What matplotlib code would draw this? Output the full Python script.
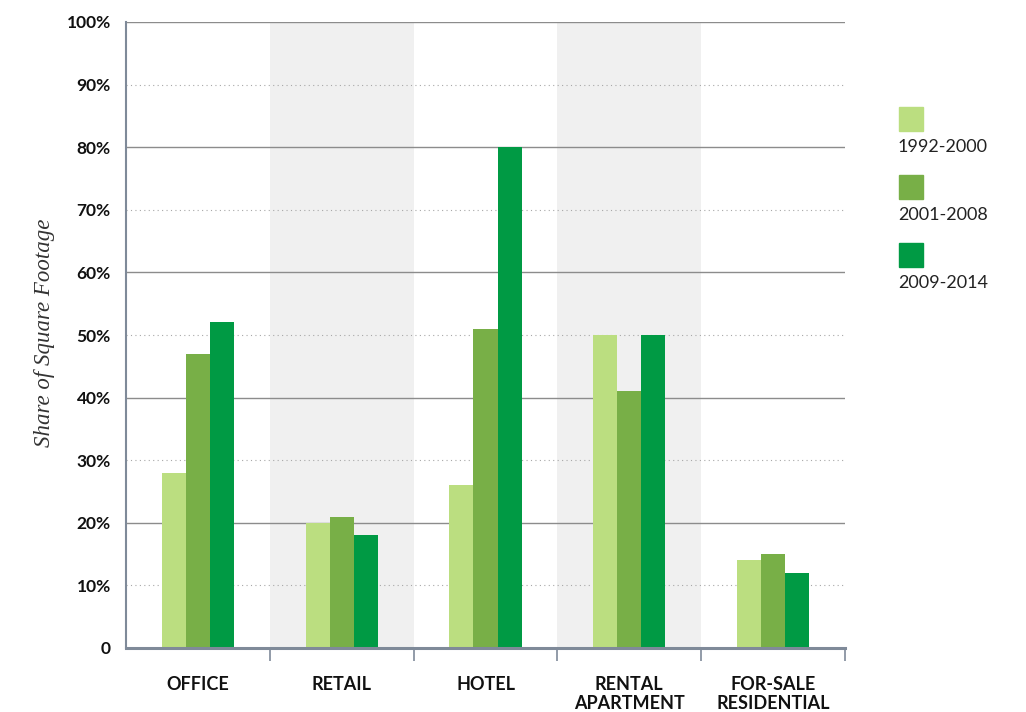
import matplotlib
matplotlib.use("Agg")
import matplotlib.pyplot as plt
import numpy as np
from matplotlib.patches import Rectangle

# share of square footage by property type and period (%)
categories = ["OFFICE", "RETAIL", "HOTEL", "RENTAL\nAPARTMENT", "FOR-SALE\nRESIDENTIAL"]
periods = ["1992-2000", "2001-2008", "2009-2014"]
share_1992_2000 = [28, 20, 26, 50, 14]
share_2001_2008 = [47, 21, 51, 41, 15]
share_2009_2014 = [52, 18, 80, 50, 12]
y_ticks = [0, 10, 20, 30, 40, 50, 60, 70, 80, 90, 100]
y_tick_labels = ["0", "10%", "20%", "30%", "40%", "50%", "60%", "70%", "80%", "90%", "100%"]

COLORS = ["#BBDE80", "#78AF47", "#009A44"]
SHADE = "#F0F0F0"
AXIS_C = "#7F8A99"
GRID_C = "#8C8C8C"
BAR_W = 0.167

fig = plt.figure(figsize=(10.26, 7.12), dpi=100)
ax = fig.add_axes([126 / 1026, 1 - 648 / 712, 719 / 1026, 626 / 712])

n = len(categories)
ax.set_xlim(0, n)
ax.set_ylim(0, 100)

# alternating shaded bands behind retail and rental apartment
for i in (1, 3):
    ax.axvspan(i, i + 1, color=SHADE, zorder=0, lw=0)

# gridlines: solid every 20, dotted in between
for y in y_ticks[1:]:
    if y % 20 == 0:
        ax.axhline(y, color=GRID_C, lw=1.0, zorder=1)
    else:
        ax.axhline(y, color="#A8A8A8", lw=0.8, ls=(0, (1, 3)), zorder=1)

x = np.arange(n) + 0.5
series = [share_1992_2000, share_2001_2008, share_2009_2014]
for k, vals in enumerate(series):
    ax.bar(x + (k - 1) * BAR_W, vals, width=BAR_W, color=COLORS[k],
           zorder=2, linewidth=0)

for side in ("top", "right"):
    ax.spines[side].set_visible(False)
ax.spines["left"].set_color(AXIS_C)
ax.spines["left"].set_linewidth(1.5)
ax.spines["bottom"].set_color(AXIS_C)
ax.spines["bottom"].set_linewidth(2.2)

ax.set_yticks(y_ticks)
ax.set_yticklabels(y_tick_labels, fontfamily="Lato", fontweight="bold", fontsize=12.5)
ax.tick_params(axis="y", length=0, pad=11, labelcolor="#111111")

# boundary ticks between categories, labels centred under each group
ax.set_xticks(np.arange(1, n + 1))
ax.set_xticklabels([])
ax.tick_params(axis="x", which="major", length=9, width=1.2, color=AXIS_C, direction="out")
ax.set_xticks(x, minor=True)
ax.set_xticklabels(categories, minor=True, fontfamily="Lato", fontweight="bold",
                   fontsize=13, linespacing=1.15)
ax.tick_params(axis="x", which="minor", length=0, pad=20, labelcolor="#111111")

fig.text(45 / 1026, 1 - 333 / 712, "Share of Square Footage", rotation=90,
         ha="center", va="center", fontfamily="Liberation Serif", fontstyle="italic",
         fontsize=16.5, color="#333333")

# legend: swatch above each label
for k, lab in enumerate(periods):
    top = 107 + k * 68
    fig.patches.append(Rectangle((899 / 1026, 1 - (top + 24) / 712), 24 / 1026, 24 / 712,
                                 transform=fig.transFigure, color=COLORS[k]))
    fig.text(898 / 1026, 1 - (top + 40) / 712, lab, ha="left", va="center",
             fontfamily="Lato", fontsize=13, color="#222222")

fig.savefig("out.png", dpi=100)
